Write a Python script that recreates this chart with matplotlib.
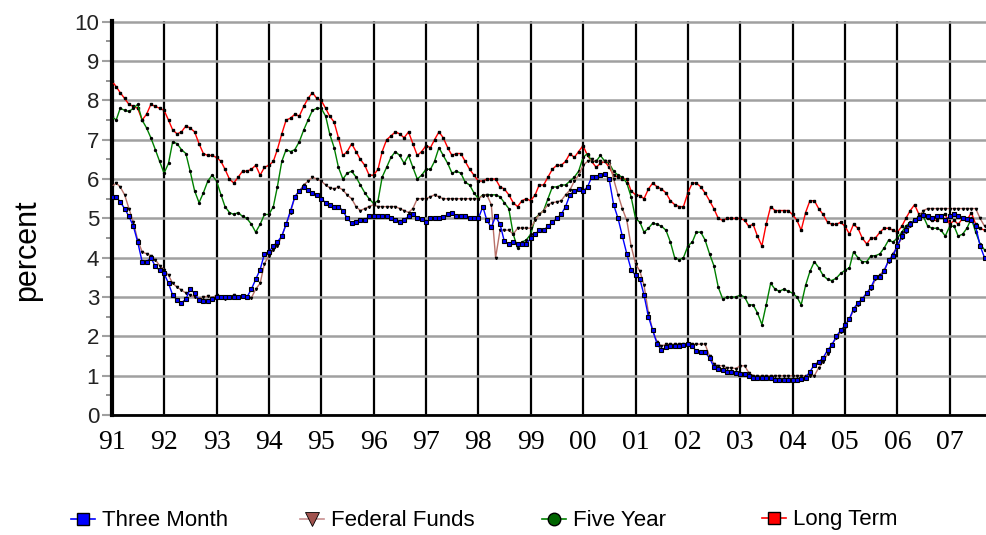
import numpy as np
import pandas as pd
import matplotlib
matplotlib.use('Agg')
import matplotlib.pyplot as plt
import matplotlib.dates as mdates
from matplotlib.lines import Line2D

# monthly rates, percent
months = pd.date_range('1991-01-01', periods=201, freq='MS')

three_month = [
    5.55, 5.55, 5.42, 5.25, 5.05, 4.8, 4.4, 3.9, 3.9, 4.0, 3.78, 3.68,
    3.6, 3.35, 3.05, 2.93, 2.85, 2.95, 3.2, 3.1, 2.92, 2.9, 2.9, 2.95,
    3.0, 3.0, 3.0, 3.0, 3.0, 3.0, 3.02, 3.0, 3.2, 3.45, 3.7, 4.1,
    4.15, 4.3, 4.4, 4.55, 4.85, 5.2, 5.55, 5.7, 5.8, 5.72, 5.65, 5.6,
    5.5, 5.4, 5.35, 5.3, 5.3, 5.2, 5.0, 4.88, 4.9, 4.95, 4.95, 5.05,
    5.05, 5.05, 5.05, 5.05, 5.0, 4.95, 4.9, 4.97, 5.05, 5.1, 5.02, 4.98,
    4.9, 5.0, 5.0, 5.0, 5.03, 5.1, 5.15, 5.05, 5.05, 5.05, 5.02, 5.0,
    5.0, 5.3, 4.95, 4.78, 5.05, 4.85, 4.42, 4.35, 4.4, 4.35, 4.35, 4.35,
    4.5, 4.6, 4.7, 4.7, 4.8, 4.9, 5.0, 5.1, 5.3, 5.6, 5.7, 5.75,
    5.7, 5.8, 6.05, 6.05, 6.1, 6.12, 6.0, 5.35, 5.0, 4.55, 4.1, 3.7,
    3.55, 3.45, 3.05, 2.5, 2.15, 1.8, 1.65, 1.72, 1.75, 1.75, 1.75, 1.78,
    1.8, 1.75, 1.62, 1.6, 1.6, 1.45, 1.22, 1.18, 1.15, 1.1, 1.1, 1.06,
    1.05, 1.05, 0.98, 0.93, 0.95, 0.95, 0.95, 0.93, 0.9, 0.9, 0.9, 0.9,
    0.9, 0.9, 0.92, 0.95, 1.1, 1.28, 1.35, 1.45, 1.65, 1.78, 2.0, 2.15,
    2.28, 2.45, 2.7, 2.85, 2.95, 3.1, 3.25, 3.5, 3.5, 3.65, 3.95, 4.05,
    4.3, 4.55, 4.7, 4.85, 4.95, 5.02, 5.08, 5.05, 5.02, 5.05, 5.05, 4.97,
    5.05, 5.12, 5.05, 5.0, 4.98, 4.95, 4.8, 4.3, 4.0]

federal_funds = [
    5.8, 5.9, 5.8, 5.6, 5.25, 4.9, 4.45, 4.15, 4.1, 4.05, 3.95, 3.8,
    3.7, 3.55, 3.35, 3.25, 3.18, 3.1, 3.05, 3.0, 2.95, 3.0, 3.02, 2.98,
    3.05, 3.0, 2.95, 3.0, 3.05, 3.0, 3.0, 2.98, 2.98, 3.2, 3.35, 3.85,
    4.05, 4.2, 4.3, 4.55, 4.85, 5.15, 5.55, 5.7, 5.85, 5.95, 6.05, 6.0,
    5.95, 5.85, 5.78, 5.75, 5.8, 5.72, 5.6, 5.5, 5.3, 5.2, 5.25, 5.3,
    5.35, 5.3, 5.3, 5.3, 5.3, 5.3, 5.25, 5.2, 5.15, 5.25, 5.5, 5.5,
    5.5, 5.55, 5.6, 5.55, 5.5, 5.5, 5.5, 5.5, 5.5, 5.5, 5.5, 5.5,
    5.5, 5.58, 5.6, 5.35, 4.0, 4.7, 4.7, 4.7, 4.6, 4.75, 4.75, 4.75,
    4.75, 4.95, 5.1, 5.2, 5.35, 5.4, 5.42, 5.45, 5.6, 5.72, 5.95, 6.1,
    6.35, 6.45, 6.5, 6.45, 6.45, 6.45, 6.45, 6.0, 5.6, 5.25, 4.95, 4.3,
    3.85, 3.65, 3.3, 2.6, 2.15, 1.85, 1.75, 1.8, 1.8, 1.8, 1.8, 1.8,
    1.8, 1.8, 1.8, 1.8, 1.8, 1.5, 1.3, 1.25, 1.25, 1.2, 1.2, 1.18,
    1.25, 1.25, 1.08, 1.0, 1.0, 1.0, 1.0, 1.0, 1.0, 1.0, 1.0, 1.0,
    1.0, 1.0, 1.0, 1.0, 1.0, 1.0, 1.2, 1.35, 1.55, 1.8, 1.95, 2.1,
    2.25, 2.45, 2.65, 2.8, 2.95, 3.1, 3.2, 3.45, 3.55, 3.7, 3.9, 4.1,
    4.3, 4.5, 4.65, 4.8, 4.95, 5.05, 5.2, 5.25, 5.25, 5.25, 5.25, 5.25,
    5.25, 5.25, 5.25, 5.25, 5.25, 5.25, 5.25, 5.0, 4.8]

five_year = [
    7.6, 7.5, 7.8, 7.75, 7.72, 7.8, 7.9, 7.5, 7.3, 7.05, 6.75, 6.45,
    6.15, 6.4, 6.95, 6.9, 6.75, 6.65, 6.2, 5.7, 5.4, 5.65, 5.95, 6.1,
    5.95, 5.6, 5.3, 5.15, 5.1, 5.15, 5.05, 5.0, 4.85, 4.65, 4.85, 5.1,
    5.1, 5.3, 5.8, 6.45, 6.75, 6.7, 6.75, 6.95, 7.25, 7.5, 7.75, 7.8,
    7.8, 7.6, 7.15, 6.8, 6.3, 6.0, 6.15, 6.2, 6.05, 5.85, 5.65, 5.5,
    5.38, 5.45, 6.05, 6.3, 6.55, 6.7, 6.6, 6.4, 6.6, 6.3, 6.0, 6.1,
    6.25, 6.25, 6.45, 6.8, 6.6, 6.4, 6.15, 6.2, 6.15, 5.92, 5.85, 5.65,
    5.5, 5.6, 5.6, 5.6, 5.6, 5.55, 5.4, 5.25, 4.6, 4.25, 4.4, 4.45,
    4.6, 5.0, 5.1, 5.2, 5.5, 5.8, 5.8, 5.85, 5.85, 5.95, 6.05, 6.2,
    6.55, 6.65, 6.45, 6.45, 6.6, 6.45, 6.4, 6.2, 6.1, 6.05, 5.9, 5.55,
    5.0, 4.9, 4.65, 4.75, 4.88, 4.85, 4.8, 4.7, 4.4, 4.0, 3.95, 4.0,
    4.3, 4.4, 4.65, 4.65, 4.45, 4.1, 3.8, 3.25, 2.95, 3.0, 3.0, 3.0,
    3.05, 3.0, 2.8, 2.8, 2.6, 2.3, 2.8, 3.35, 3.2, 3.15, 3.2, 3.15,
    3.1, 3.0, 2.8, 3.3, 3.65, 3.9, 3.75, 3.55, 3.45, 3.42, 3.48, 3.6,
    3.68, 3.75, 4.15, 4.0, 3.9, 3.9, 4.05, 4.05, 4.1, 4.25, 4.45, 4.4,
    4.5, 4.65, 4.8, 4.9, 4.95, 5.05, 5.05, 4.8, 4.75, 4.75, 4.7, 4.55,
    4.8, 4.8, 4.55, 4.6, 4.75, 5.0, 4.65, 4.35, 4.2]

long_term = [
    8.5, 8.35, 8.2, 8.05, 7.9, 7.85, 7.8, 7.5, 7.65, 7.9, 7.85, 7.8,
    7.75, 7.5, 7.25, 7.15, 7.2, 7.35, 7.3, 7.2, 6.9, 6.65, 6.6, 6.6,
    6.55, 6.45, 6.25, 6.0, 5.9, 6.05, 6.2, 6.2, 6.25, 6.35, 6.1, 6.3,
    6.35, 6.45, 6.75, 7.15, 7.5, 7.55, 7.65, 7.6, 7.85, 8.05, 8.2, 8.05,
    8.0, 7.8, 7.6, 7.45, 7.05, 6.6, 6.7, 6.9, 6.7, 6.5, 6.35, 6.1,
    6.1, 6.25, 6.7, 7.0, 7.1, 7.2, 7.15, 7.05, 7.2, 6.9, 6.6, 6.7,
    6.85, 6.8, 7.0, 7.2, 7.05, 6.8, 6.6, 6.65, 6.65, 6.45, 6.25, 6.1,
    5.95, 5.95, 6.0, 6.0, 6.0, 5.8, 5.75, 5.6, 5.4, 5.3, 5.45, 5.5,
    5.45, 5.6, 5.85, 5.85, 6.05, 6.25, 6.35, 6.35, 6.45, 6.65, 6.55, 6.7,
    6.85, 6.6, 6.45, 6.3, 6.4, 6.45, 6.3, 6.1, 6.05, 6.0, 6.0, 5.7,
    5.6, 5.58, 5.5, 5.75, 5.9, 5.8, 5.75, 5.65, 5.45, 5.35, 5.3, 5.3,
    5.65, 5.9, 5.9, 5.8, 5.65, 5.45, 5.25, 5.0, 4.95, 5.0, 5.0, 5.0,
    5.0, 4.95, 4.8, 4.85, 4.55, 4.3, 4.85, 5.3, 5.2, 5.2, 5.2, 5.2,
    5.1, 4.95, 4.7, 5.15, 5.45, 5.45, 5.25, 5.1, 4.9, 4.85, 4.85, 4.9,
    4.8, 4.6, 4.85, 4.75, 4.5, 4.35, 4.5, 4.5, 4.65, 4.75, 4.75, 4.7,
    4.65, 4.8, 5.0, 5.2, 5.35, 5.1, 5.1, 5.0, 4.95, 4.95, 5.05, 5.1,
    4.85, 4.95, 4.85, 5.0, 4.95, 5.15, 4.85, 4.75, 4.7]

sans = ['Liberation Sans', 'DejaVu Sans']
serif = ['Liberation Serif', 'DejaVu Serif']

fig = plt.figure(figsize=(9.87, 5.35), dpi=100)
ax = fig.add_axes([0.1132, 0.2243, 0.8868, 0.7364])

ax.plot(months, long_term, color='#ff0000', lw=1, marker='s', ms=1.5,
        mfc='black', mec='black', zorder=3)
ax.plot(months, five_year, color='#008000', lw=1, marker='o', ms=1.4,
        mfc='black', mec='black', zorder=3)
ax.plot(months, federal_funds, color='#b87068', lw=1, marker='v', ms=1.6,
        mfc='black', mec='black', zorder=3)
ax.plot(months, three_month, color='#0000ff', lw=1, marker='s', ms=2.2,
        mfc='#0000ff', mec='black', mew=0.8, zorder=4)

ax.set_ylim(0, 10.02)
ax.set_xlim(pd.Timestamp('1991-01-01'), pd.Timestamp('2007-09-18'))

ax.set_yticks(range(11))
ax.set_yticks(np.arange(0.5, 10, 1), minor=True)
ax.xaxis.set_major_locator(mdates.YearLocator())
ax.xaxis.set_major_formatter(mdates.DateFormatter('%y'))

ax.yaxis.grid(True, color='#a0a0a0', lw=1.8, zorder=1)
ax.xaxis.grid(True, color='black', lw=1.6, zorder=1)
ax.set_axisbelow(True)

ax.tick_params(axis='y', which='major', length=7, width=1.5, color='#a0a0a0',
               pad=2, labelsize=16, labelcolor='#222222')
ax.tick_params(axis='y', which='minor', length=4.5, width=1.2, color='#808080')
ax.tick_params(axis='x', length=0, pad=11, labelsize=20)
for lab in ax.get_yticklabels():
    lab.set_family(sans)
for lab in ax.get_xticklabels():
    lab.set_family(serif)

for s in ['top', 'right']:
    ax.spines[s].set_visible(False)
ax.spines['left'].set_linewidth(3)
ax.spines['bottom'].set_linewidth(2)

fig.text(0.027, 1 - 250 / 535, 'percent', rotation=90, ha='center',
         va='center', fontsize=22, family=sans)

# legend, one entry at a time to keep the uneven spacing
handles = [
    Line2D([], [], color='#0000ff', lw=1.2, marker='s', ms=8,
           mfc='#0000ff', mec='black'),
    Line2D([], [], color='#c89090', lw=1.2, marker='v', ms=10,
           mfc='#a0524d', mec='black', mew=0.6),
    Line2D([], [], color='#008000', lw=1.2, marker='o', ms=9,
           mfc='#006400', mec='black'),
    Line2D([], [], color='#ff0000', lw=1.2, marker='s', ms=8,
           mfc='#ff0000', mec='black'),
]
labels = ['Three Month', 'Federal Funds', 'Five Year', 'Long Term']
starts = [71, 300, 542, 762]
rows = [521, 521, 521, 520]
for h, lab, x0, y0 in zip(handles, labels, starts, rows):
    fig.legend([h], [lab], loc='center left',
               bbox_to_anchor=(x0 / 987, 1 - y0 / 535), frameon=False,
               borderpad=0, borderaxespad=0, handlelength=1.1,
               handletextpad=0.3, prop={'family': sans, 'size': 16})

fig.savefig('out.png', dpi=100)
